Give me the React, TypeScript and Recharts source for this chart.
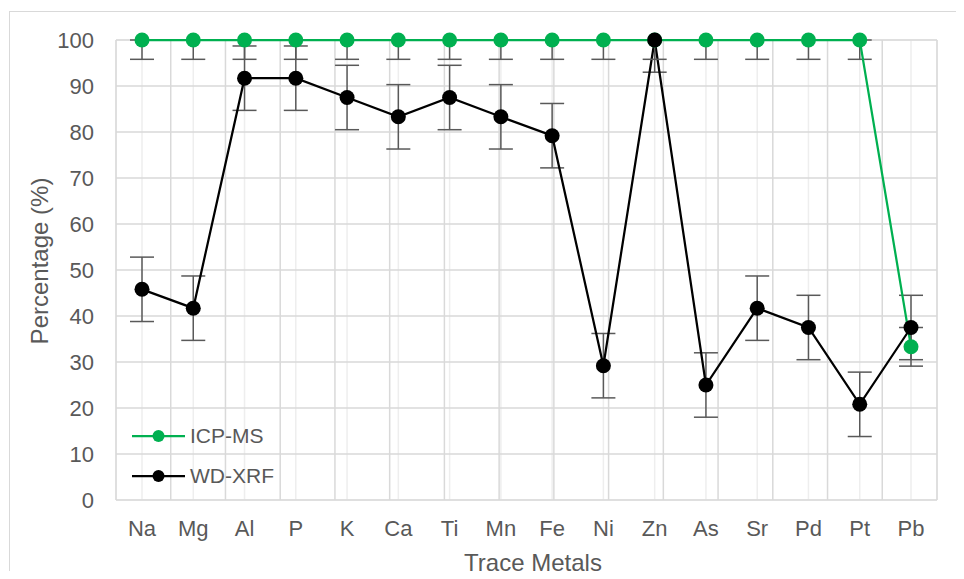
import React from 'react';
import { LineChart, Line, XAxis, YAxis, CartesianGrid, ErrorBar, Legend } from 'recharts';

const categories = ['Na', 'Mg', 'Al', 'P', 'K', 'Ca', 'Ti', 'Mn', 'Fe', 'Ni', 'Zn', 'As', 'Sr', 'Pd', 'Pt', 'Pb'];
const icpValues = [100, 100, 100, 100, 100, 100, 100, 100, 100, 100, 100, 100, 100, 100, 100, 33.3];
const wdValues = [45.8, 41.7, 91.7, 91.7, 87.5, 83.3, 87.5, 83.3, 79.2, 29.2, 100, 25, 41.7, 37.5, 20.8, 37.5];
// [minus, plus] — plus part is clipped at the 100% axis maximum
const icpErrors: [number, number][] = [
  [4.2, 0], [4.2, 0], [4.2, 0], [4.2, 0], [4.2, 0], [4.2, 0], [4.2, 0], [4.2, 0],
  [4.2, 0], [4.2, 0], [4.2, 0], [4.2, 0], [4.2, 0], [4.2, 0], [4.2, 0], [4.2, 4.2],
];
const wdErrors: [number, number][] = [
  [7, 7], [7, 7], [7, 7], [7, 7], [7, 7], [7, 7], [7, 7], [7, 7],
  [7, 7], [7, 7], [7, 0], [7, 7], [7, 7], [7, 7], [7, 7], [7, 7],
];
const yTicks = [0, 10, 20, 30, 40, 50, 60, 70, 80, 90, 100];
const yMinorTicks = [0, 2, 4, 6, 8, 10, 12, 14, 16, 18, 20, 22, 24, 26, 28, 30, 32, 34, 36, 38, 40, 42, 44, 46, 48, 50, 52, 54, 56, 58, 60, 62, 64, 66, 68, 70, 72, 74, 76, 78, 80, 82, 84, 86, 88, 90, 92, 94, 96, 98, 100];
const boundaryTicks = [0, 1, 2, 3, 4, 5, 6, 7, 8, 9, 10, 11, 12, 13, 14, 15, 16];

const data = categories.map((name, i) => ({
  name,
  icp: icpValues[i],
  wd: wdValues[i],
  icpErr: icpErrors[i],
  wdErr: wdErrors[i],
}));

const FONT = '"Liberation Sans", Arial, sans-serif';
const TEXT = '#595959';
const GREEN = '#00b050';
const BLACK = '#000000';

const legendItems = [
  { name: 'ICP-MS', color: GREEN },
  { name: 'WD-XRF', color: BLACK },
];

const renderLegend = () => (
  <div style={{ fontFamily: FONT }}>
    {legendItems.map((p) => (
      <div key={p.name} style={{ display: 'flex', alignItems: 'center', height: 40 }}>
        <svg width={56} height={16} style={{ display: 'block' }}>
          <line x1={0} x2={53} y1={8} y2={8} stroke={p.color} strokeWidth={2.25} />
          <circle cx={26.5} cy={8} r={6} fill={p.color} />
        </svg>
        <span style={{ marginLeft: 2, fontSize: 21, color: TEXT, lineHeight: '22px' }}>{p.name}</span>
      </div>
    ))}
  </div>
);

export default function App() {
  return (
    <div style={{ position: 'relative', width: 964, height: 579, margin: -8, overflow: 'hidden', background: '#fff' }}>
      <div
        style={{
          position: 'absolute', left: 9, top: 11, width: 1200, height: 1000,
          border: '1px solid #d9d9d9', boxSizing: 'border-box',
        }}
      />
      <div style={{ position: 'absolute', left: 0, top: 0 }}>
        <LineChart
          width={964}
          height={579}
          data={data}
          margin={{ top: 40, right: 27, bottom: 0, left: 0 }}
          style={{ fontFamily: FONT }}
        >
          <XAxis
            xAxisId="cat"
            dataKey="name"
            padding={{ left: 26, right: 26 }}
            tickLine={false}
            tickSize={0}
            tickMargin={20}
            axisLine={false}
            height={79}
            interval={0}
            tick={{ fill: TEXT, fontSize: 22, fontFamily: FONT }}
            label={{
              content: () => (
                <text x={533} y={571} textAnchor="middle" fill={TEXT} fontSize={24} fontFamily={FONT}>
                  Trace Metals
                </text>
              ),
            }}
          />
          <XAxis xAxisId="bound" type="number" domain={[0, 16]} ticks={boundaryTicks} height={0} hide />
          <YAxis
            yAxisId="y"
            domain={[0, 100]}
            ticks={yTicks}
            width={116}
            tickLine={false}
            tickSize={0}
            tickMargin={22}
            axisLine={false}
            interval={0}
            tick={{ fill: TEXT, fontSize: 22, fontFamily: FONT }}
            label={{
              content: () => (
                <text
                  x={48}
                  y={261}
                  textAnchor="middle"
                  transform="rotate(-90 48 261)"
                  fill={TEXT}
                  fontSize={24}
                  fontFamily={FONT}
                >
                  Percentage (%)
                </text>
              ),
            }}
          />
          <YAxis yAxisId="minor" domain={[0, 100]} ticks={yMinorTicks} width={0} hide />
          <CartesianGrid xAxisId="cat" yAxisId="minor" stroke="#eeeeee" strokeWidth={1.5} />
          <CartesianGrid xAxisId="bound" yAxisId="y" stroke="#d9d9d9" strokeWidth={1.5} />
          <Line
            xAxisId="cat"
            yAxisId="y"
            name="WD-XRF"
            dataKey="wd"
            stroke={BLACK}
            strokeWidth={2.25}
            dot={false}
            activeDot={false}
            isAnimationActive={false}
          >
            <ErrorBar dataKey="wdErr" direction="y" width={12} stroke="#595959" strokeWidth={1.5} />
          </Line>
          <Line
            xAxisId="cat"
            yAxisId="y"
            name="ICP-MS"
            dataKey="icp"
            stroke={GREEN}
            strokeWidth={2.25}
            dot={{ r: 7.5, fill: GREEN, stroke: 'none' }}
            activeDot={false}
            isAnimationActive={false}
          >
            <ErrorBar dataKey="icpErr" direction="y" width={12} stroke="#595959" strokeWidth={1.5} />
          </Line>
          <Line
            xAxisId="cat"
            yAxisId="y"
            name="WD-XRF markers"
            dataKey="wd"
            stroke="none"
            legendType="none"
            dot={{ r: 7.5, fill: BLACK, stroke: 'none' }}
            activeDot={false}
            isAnimationActive={false}
          />
          <Legend
            layout="vertical"
            align="center"
            verticalAlign="middle"
            content={renderLegend}
            wrapperStyle={{ left: 132, top: 416, width: 'auto', height: 'auto' }}
          />
        </LineChart>
      </div>
    </div>
  );
}
